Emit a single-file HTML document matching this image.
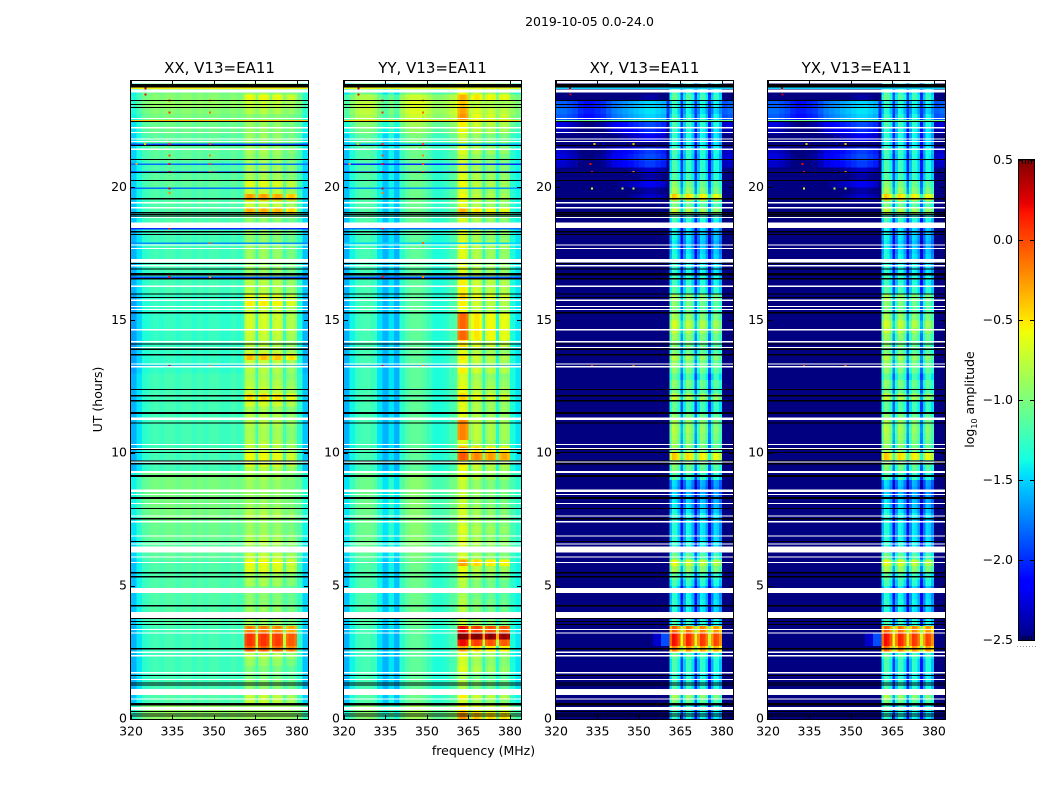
<!DOCTYPE html>
<html>
<head>
<meta charset="utf-8">
<title>2019-10-05 amplitude waterfall</title>
<style>
html,body{margin:0;padding:0;background:#fff}
svg{display:block}
text{font-family:"DejaVu Sans","Liberation Sans",sans-serif;fill:#000}
</style>
</head>
<body>
<svg id="chart" width="1050" height="800" viewBox="0 0 1050 800" xmlns="http://www.w3.org/2000/svg">
<rect width="1050" height="800" fill="#fff"/>
<text x="589.5" y="26" font-size="12.5" text-anchor="middle">2019-10-05 0.0-24.0</text>
<text x="0" y="0" font-size="12.5" text-anchor="middle" transform="translate(102,399.5) rotate(-90)">UT (hours)</text>
<text x="483.5" y="755" font-size="12.5" text-anchor="middle">frequency (MHz)</text>
<text x="0" y="0" font-size="12.5" text-anchor="middle" transform="translate(974,399.5) rotate(-90)">log<tspan font-size="8" dy="3">10</tspan><tspan dy="-3"> amplitude</tspan></text>
</svg>
<script>
// ---- axis ticks ----
const xTickValues = [320, 335, 350, 365, 380];
const yTickValues = [0, 5, 10, 15, 20];
const colorbarTickValues = [0.5, 0, -0.5, -1, -1.5, -2, -2.5];
const panelTitles = ["XX, V13=EA11", "YY, V13=EA11", "XY, V13=EA11", "YX, V13=EA11"];

// ---- frequency baseline of log10 amplitude, one value every 2 MHz from 320 MHz ----
const baselineXX = [-1.6,-1.45,-1.3,-1.25,-1.2,-1.25,-1.2,-1.2,-1.25,-1.2,-1.2,-1.25,-1.2,-1.25,-1.2,-1.2,-1.25,-1.25,-1.2,-1.25,-1.2,-1.2,-1.2,-1.2,-1.2,-1.2,-1.2,-1.2,-1.2,-1.25,-1.3,-1.55];
const baselineYY = [-1.6,-1.4,-1.25,-1.2,-1.2,-1.25,-1.45,-1.6,-1.45,-1.6,-1.3,-1.15,-1.1,-1.1,-1.15,-1.25,-1.35,-1.35,-1.3,-1.2,-1.15,-1.25,-1.25,-1.3,-1.3,-1.3,-1.3,-1.35,-1.35,-1.3,-1.35,-1.45];
const baselineXY = [-2.95,-2.95,-3,-3.05,-3.15,-3.2,-3.2,-3.15,-3.1,-3,-2.9,-2.85,-2.8,-2.75,-2.7,-2.65,-2.6,-2.6,-2.65,-2.7,-3.1,-3.1,-3.1,-3.1,-3.1,-3.1,-3.1,-3.1,-3.1,-3.1,-3,-2.95];
const baselineYX = [-2.95,-2.95,-3,-3.05,-3.15,-3.2,-3.2,-3.15,-3.1,-3,-2.9,-2.85,-2.8,-2.75,-2.7,-2.65,-2.6,-2.6,-2.65,-2.7,-3.1,-3.1,-3.1,-3.1,-3.1,-3.1,-3.1,-3.1,-3.1,-3.1,-3,-2.95];

// ---- background offset per quarter hour, 0.00 to 23.75 UT ----
const offsetXX = [.3,.3,.05,.05, 0,0,0,0, 0,0,0,0, 0,0,.05,.05, .05,.05,.05,.05, .05,.05,.05,.05, .1,.1,.1,.15, .15,.15,.2,.2, .2,.2,.2,.2, .2,0,0,0, 0,0,0,0, 0,0,0,0, 0,0,0,0, -.05,-.05,-.05,-.05, -.05,-.05,-.05,-.05, -.05,-.05,-.05,-.05, 0,0,0,0, 0,0,0,0, 0,0,.05,.05, .05,.05,.05,.05, .1,.1,.05,.05, .1,.1,.1,.1, .15,.15,.2,.25, .3,.25,.2,.2];
const offsetYY = [.25,.25,.05,.05, 0,0,0,0, 0,0,0,0, 0,0,.05,.05, .05,.05,.05,.05, .05,.05,.05,.05, .1,.1,.15,.15, .15,.15,.15,.15, .15,.15,.15,.15, .15,0,0,0, 0,0,0,0, 0,0,0,0, 0,0,0,0, 0,0,0,0, 0,0,0,0, 0,0,0,0, 0,0,0,0, 0,0,0,0, 0,0,.05,.05, .05,.05,.05,.05, .05,.05,.05,.05, .05,.05,.1,.1, .2,.25,.4,.45, .45,.4,.15,.15];
const offsetXY = [0,0,0,0, 0,0,0,0, 0,0,0,0, 0,0,0,0, 0,0,0,0, 0,0,0,0, 0,0,0,0, 0,0,0,0, 0,0,0,0, 0,0,0,0, 0,0,0,0, 0,0,0,0, 0,0,0,0, 0,0,0,0, 0,0,0,0, 0,0,0,0, 0,0,0,0, 0,0,0,0, 0,0,.1,.1, .1,.1,.3,.2, .4,.2,.3,.65, .7,.65,.1,.4, .6,.7,1.1,1.15, 1.1,.2,0,0];
const offsetYX = [0,0,0,0, 0,0,0,0, 0,0,0,0, 0,0,0,0, 0,0,0,0, 0,0,0,0, 0,0,0,0, 0,0,0,0, 0,0,0,0, 0,0,0,0, 0,0,0,0, 0,0,0,0, 0,0,0,0, 0,0,0,0, 0,0,0,0, 0,0,0,0, 0,0,0,0, 0,0,0,0, 0,0,.1,.1, .1,.1,.3,.2, .4,.2,.3,.65, .7,.65,.1,.4, .6,.7,1.1,1.15, 1.1,.2,0,0];

// ---- peak level in the four 361-380 MHz sub-bands per quarter hour ----
const bandLevelXX = [-.85,-.85,-.7,-.7, -.9,-.9,-.95,-.95, -.85,-.75,-.05,.1, .1,-.15,-.85,-.85, -.85,-.9,-.9,-.95, -.8,-.8,-.6,-.55, -.7,-.9,-.75,-.8, -.85,-.85,-.75,-.8, -.85,-.85,-.85,-.85, -.8,-.75,-.6,-.55, -.7,-.75,-.8,-.8, -.75,-.75,-.8,-.65, -.45,-.7,-.75,-.8, -.75,-.7,-.35,-.7, -.75,-.7,-.65,-.65, -.65,-.7,-.5,-.6, -.75,-.75,-.75,-.85, -.85,-.85,-.85,-.85, -.9,-.85,-.9,-.85, -.3,-.7,-.25,-.7, -.6,-.8,-.8,-.8, -.85,-.8,-.85,-.85, -.85,-.85,-.9,-.75, -.7,-.55,-.85,-.85];
const bandLevelYY = [-.35,-.6,-.8,-.65, -.95,-.9,-.95,-.75, -.8,-.75,-.4,.1, .6,.1,-.85,-.9, -.9,-.9,-.95,-.9, -.9,-.8,-.7,-.4, -.8,-.85,-.75,-.8, -.75,-.8,-.8,-.8, -.85,-.85,-.85,-.85, -.75,-.7,-.65,-.15, -.4,-.75,-.7,-.7, -.7,-.75,-.75,-.75, -.55,-.7,-.75,-.8, -.65,-.7,-.65,-.75, -.6,-.45,-.45,-.45, -.45,-.7,-.65,-.55, -.65,-.65,-.7,-.75, -.75,-.75,-.75,-.7, -.8,-.75,-.8,-.75, -.45,-.75,-.7,-.75, -.7,-.75,-.8,-.8, -.85,-.75,-.8,-.85, -.7,-.65,-.55,-.6, -.7,-.45,-.7,-.7];
const bandLevelXY = [-1.3,-1.2,-1,-.85, -1.2,-1.25,-1.25,-1.2, -1.2,-1.1,-.2,.15, .15,-.1,-1.2,-1.3, -1.35,-1.3,-1.35,-1.4, -1.2,-1.1,-.85,-.65, -1.05,-1.3,-1.3,-1.35, -1.35,-1.35,-1.3,-1.4, -1.45,-1.5,-1.55,-1.5, -1.15,-1,-.95,-.45, -.9,-.9,-.85,-.8, -.85,-.95,-1.1,-1.1, -.75,-1,-.95,-1.1, -.95,-.9,-.8,-1, -.95,-.9,-.75,-.7, -.85,-1,-.95,-.85, -1.15,-1.25,-1.2,-1.3, -1.3,-1.35,-1.4,-1.45, -1.4,-1.4,-1.25,-1.2, -.75,-1,-.45,-.85, -.95,-1.15,-1.2,-1.2, -1.25,-1.2,-1.3,-1.3, -1.3,-1.2,-1.25,-1.35, -1.25,-1.1,-1.2,-1.2];
const bandLevelYX = [-1.3,-1.2,-1,-.85, -1.2,-1.25,-1.25,-1.2, -1.2,-1.1,-.15,.15, .15,-.1,-1.2,-1.3, -1.35,-1.3,-1.35,-1.4, -1.2,-1.1,-.85,-.65, -1.05,-1.3,-1.3,-1.35, -1.35,-1.35,-1.3,-1.4, -1.45,-1.5,-1.55,-1.5, -1.15,-1,-.95,-.45, -.9,-.9,-.85,-.8, -.85,-.95,-1.1,-1.1, -.75,-1,-.95,-1.1, -.95,-.9,-.8,-1, -.95,-.9,-.75,-.7, -.85,-1,-.95,-.85, -1.15,-1.25,-1.2,-1.3, -1.3,-1.35,-1.4,-1.45, -1.4,-1.4,-1.25,-1.2, -.75,-1,-.45,-.85, -.95,-1.15,-1.2,-1.2, -1.25,-1.2,-1.3,-1.3, -1.3,-1.2,-1.25,-1.35, -1.25,-1.1,-1.2,-1.2];

// ---- sub-band gains (log10) and shape of one 5-channel band period ----
const bandGainXX = [-.02, -.02, -.05, -.15];
const bandGainYY = [.12, -.05, -.12, -.15];
const bandGainXY = [.05, -.02, -.07, -.12];
const bandGainYX = [.05, -.02, -.07, -.12];
const bandStartMHz = [361, 366, 371, 376];
const parallelChannelShape = [-.08, 0, 0, -.08, -.8];
const crossChannelShape = [-.3, 0, -.05, -.25, -.8];

// ---- YY first sub-band runs hotter than the rest at these hours ----
const boostHoursYY = [10.5, 10.75, 11, 14.25, 14.5, 14.75, 15, 22.5, 22.75, 23];
const boostValuesYY = [.4, .4, .4, .25, .25, .25, .25, .2, .2, .2];

// ---- narrow one-integration rows ----
const narrowRowHours = [23.72, 22.5, 21.63, 20.87, 20.57, 19.96, 18.45, 17.9, 16.62, 13.27];
const narrowRowXX = [-.55, -.35, -1.9, -1.8, -2.1, -1.8, -2, -1.7, -1.9, -1.7];
const narrowRowYY = [-.6, -.4, -1.6, -2, -2.1, -1.7, -1.8, -1.5, -1.9, -1.8];
const narrowRowXY = [-1.5, -1.05, null, null, null, null, null, null, null, null];
const narrowRowYX = [-1.5, -1.05, null, null, null, null, null, null, null, null];

// ---- isolated hot channels ----
const spikeMHzParallel = [325.3,325.3,334,348.5,334,348.5,334,348.5,325,334,348.5,334,348.5,322,334,348.5,334,334,334,348.5,334,348.5,334,348.5];
const spikeHourParallel = [23.72,23.5,23.26,23.26,22.82,22.82,21.63,21.63,21.63,21.2,21.2,20.87,20.87,20.87,20.57,20.57,19.96,19.79,18.45,17.9,16.62,16.62,13.27,13.27];
const spikeValueParallel = [.4,.2,.1,-.2,.1,-.1,.1,0,-.4,0,-.2,.2,0,-.3,.3,-.1,.3,-.2,.2,-.1,.2,-.2,.4,-.2];
const spikeMHzCross = [325,325.3,334,348,332.5,333,348,333,344,348,333,348];
const spikeHourCross = [23.72,23.5,21.63,21.63,20.87,20.57,20.57,19.96,19.96,19.96,13.27,13.27];
const spikeValueCross = [.4,.3,-.4,-.4,.2,.2,-.2,-.6,-.8,-.8,.1,-.1];

// ---- blue leakage next to the strongest burst in the cross hands ----
const haloHours = [2.75, 3, 2.75, 3];
const haloStartMHz = [355, 355, 358, 358];
const haloValues = [-2.3, -2.3, -1.9, -1.9];
const haloEndMHz = 361;

// ---- flagged times (hours UT) ----
const whiteLineHours = [22.57,22.22,22.04,21.79,21.7,21.41,19.4,19.21,18.84,17.81,17.68,17.03,16.26,15.73,15.49,15.38,14.62,14.17,13.95,13.34,13.23,10.3,10.15,9.64,8.53,8.42,8.08,7.61,7.4,6.87,6.56,6.08,5.86,3.34,3.22,2.49,2.36,1.72,1.46,.73];
const whiteBandStart = [23.91,23.57,18.47,17.18,11.25,9.25,8.54,6.26,4.74,3.8,.9,.34];
const whiteBandEnd = [24,23.68,18.67,17.3,11.35,9.33,8.64,6.48,4.93,4.03,1.13,.45];
const blackLineHours = [23.24,23.1,22.98,22.45,21.55,21.02,20.54,20.23,19.55,18.96,18.9,18.31,18.2,17.11,16.9,16.54,15.96,15.84,15.26,14.08,13.89,13.68,12.37,11.95,11.12,10.11,10,9.68,9.58,8.31,8.27,7.9,7.51,6.65,5.48,5.33,4.24,3.76,3.64,3.53,2.62,1.61,1.34,1.26,.5,.26,.16,.09];
const blackBandStart = [23.76,19.02,16.68,12.13,11.47,9.1,.55];
const blackBandEnd = [23.89,19.07,16.78,12.19,11.55,9.18,.61];

// ---- layout ----
const SVG_NS = "http://www.w3.org/2000/svg";
const svg = document.getElementById("chart");
const plotTop = 81, plotBottom = 719, plotWidth = 177;
const mhzMin = 320, mhzMax = 384, hourMax = 24;
const rowHours = 0.25, lineHours = 0.042;
const panelLeft = [131, 344, 556, 768];
const cbLeft = 1019, cbWidth = 15, cbTop = 160, cbBottom = 640;

const panelData = [
  {key:"xx", base:baselineXX, offset:offsetXX, level:bandLevelXX, gain:bandGainXX, narrow:narrowRowXX, cross:false},
  {key:"yy", base:baselineYY, offset:offsetYY, level:bandLevelYY, gain:bandGainYY, narrow:narrowRowYY, cross:false},
  {key:"xy", base:baselineXY, offset:offsetXY, level:bandLevelXY, gain:bandGainXY, narrow:narrowRowXY, cross:true},
  {key:"yx", base:baselineYX, offset:offsetYX, level:bandLevelYX, gain:bandGainYX, narrow:narrowRowYX, cross:true}
];

function yScale(hour){ return plotBottom - hour * (plotBottom - plotTop) / hourMax; }
function xScale(left, mhz){ return left + (mhz - mhzMin) * plotWidth / (mhzMax - mhzMin); }
function cbScale(v){ return cbBottom - (v + 2.5) * (cbBottom - cbTop) / 3; }

function jetChannel(x, pts){
  for (let i = 1; i < pts.length; i++) {
    if (x <= pts[i][0]) {
      const a = pts[i-1], b = pts[i];
      return a[1] + (b[1]-a[1]) * (x-a[0]) / (b[0]-a[0]);
    }
  }
  return pts[pts.length-1][1];
}
const jetR = [[0,0],[.35,0],[.66,1],[.89,1],[1,.5]];
const jetG = [[0,0],[.125,0],[.375,1],[.64,1],[.91,0],[1,0]];
const jetB = [[0,.5],[.11,1],[.34,1],[.65,0],[1,0]];
function color(v){
  const x = Math.max(0, Math.min(1, (v + 2.5) / 3));
  const c = a => Math.round(255 * jetChannel(x, a));
  return "rgb(" + c(jetR) + "," + c(jetG) + "," + c(jetB) + ")";
}

function addRect(parent, x, y, w, h, fill){
  const r = document.createElementNS(SVG_NS, "rect");
  r.setAttribute("x", x);
  r.setAttribute("y", y);
  r.setAttribute("width", w);
  r.setAttribute("height", h);
  r.setAttribute("fill", fill);
  parent.appendChild(r);
  return r;
}
function addGroup(parent, crisp){
  const g = document.createElementNS(SVG_NS, "g");
  if (crisp) g.setAttribute("shape-rendering", "crispEdges");
  parent.appendChild(g);
  return g;
}
function addText(parent, x, y, str, size, anchor){
  const t = document.createElementNS(SVG_NS, "text");
  t.setAttribute("x", x);
  t.setAttribute("y", y);
  t.setAttribute("font-size", size);
  t.setAttribute("text-anchor", anchor);
  t.textContent = str;
  parent.appendChild(t);
  return t;
}

function cellValue(p, row, ch){
  const mhz = mhzMin + ch;
  const shape = p.cross ? crossChannelShape : parallelChannelShape;
  let v = p.base[Math.floor(ch / 2)] + p.offset[row];
  for (let b = 0; b < bandStartMHz.length; b++) {
    const k = mhz - bandStartMHz[b];
    if (k >= 0 && k < shape.length) {
      if (k === shape.length - 1 && b === bandStartMHz.length - 1) continue;
      let boost = 0;
      if (p.key === "yy" && b === 0) {
        const bi = boostHoursYY.indexOf(row * rowHours);
        if (bi >= 0) boost = boostValuesYY[bi];
      }
      v = Math.max(v, p.level[row] + p.gain[b] + shape[k] + boost);
    }
  }
  return v;
}

panelData.forEach(function(p, pi){
  const left = panelLeft[pi];
  const panel = addGroup(svg, false);
  
  

  const cells = addGroup(panel, true);
  
  
  const nRows = p.offset.length, nCh = mhzMax - mhzMin;
  for (let row = 0; row < nRows; row++) {
    const h0 = row * rowHours;
    for (let ch = 0; ch < nCh; ch++) {
      const x0 = xScale(left, mhzMin + ch), x1 = xScale(left, mhzMin + ch + 1);
      const y1 = yScale(h0), y0 = yScale(h0 + rowHours);
      const r = addRect(cells, x0, y0, x1 - x0, y1 - y0, color(cellValue(p, row, ch)));
      
      
    }
  }

  if (p.cross) {
    haloHours.forEach(function(h, i){
      const x0 = xScale(left, haloStartMHz[i]), x1 = xScale(left, haloEndMHz);
      const r = addRect(cells, x0, yScale(h + rowHours), x1 - x0, yScale(h) - yScale(h + rowHours), color(haloValues[i]));
      
      
    });
  }

  narrowRowHours.forEach(function(h, i){
    if (p.narrow[i] === null) return;
    const r = addRect(cells, left, yScale(h) - 0.7, plotWidth, 1.5, color(p.narrow[i]));
    
    
  });

  const sm = p.cross ? spikeMHzCross : spikeMHzParallel;
  const sh = p.cross ? spikeHourCross : spikeHourParallel;
  const sv = p.cross ? spikeValueCross : spikeValueParallel;
  sm.forEach(function(m, i){
    const r = addRect(cells, xScale(left, m) - 1, yScale(sh[i]) - 1, 2, 2, color(sv[i]));
    
    
  });

  whiteLineHours.forEach(function(h){
    const r = addRect(cells, left, yScale(h + lineHours), plotWidth, yScale(h) - yScale(h + lineHours), "#fff");
    
    
  });
  whiteBandStart.forEach(function(h, i){
    const r = addRect(cells, left, yScale(whiteBandEnd[i]), plotWidth, yScale(h) - yScale(whiteBandEnd[i]), "#fff");
    
    
  });
  blackLineHours.forEach(function(h){
    const r = addRect(cells, left, yScale(h + lineHours), plotWidth, yScale(h) - yScale(h + lineHours), "#000");
    
    
  });
  blackBandStart.forEach(function(h, i){
    const r = addRect(cells, left, yScale(blackBandEnd[i]), plotWidth, yScale(h) - yScale(blackBandEnd[i]), "#000");
    
    
  });

  const ticks = addGroup(panel, true);
  
  
  xTickValues.forEach(function(m){
    const x = Math.round(xScale(left, m));
    const t1 = addRect(ticks, x, plotBottom - 4, 1, 4, "#000");
    
    
    const t2 = addRect(ticks, x, plotTop, 1, 4, "#000");
    
    
    const l = addText(panel, xScale(left, m), 735.5, String(m), 12.5, "middle");
    
    
  });
  yTickValues.forEach(function(h){
    const y = Math.round(yScale(h));
    const t1 = addRect(ticks, left, y, 4, 1, "#000");
    
    
    const t2 = addRect(ticks, left + plotWidth - 4, y, 4, 1, "#000");
    
    
    const l = addText(panel, left - 4, yScale(h) + 3.5, String(h), 12.5, "end");
    
    
  });

  const frame = addRect(ticks, left - 0.5, plotTop - 0.5, plotWidth + 1, plotBottom - plotTop + 1, "none");
  frame.setAttribute("stroke", "#000");
  frame.setAttribute("stroke-width", "1");
  
  

  const title = addText(panel, left + plotWidth / 2, 73, panelTitles[pi], 15, "middle");
  
  
});

// ---- colour bar ----
const cb = addGroup(svg, true);


for (let py = cbTop; py < cbBottom; py += 2) {
  const v = 0.5 - (py + 1 - cbTop) * 3 / (cbBottom - cbTop);
  const r = addRect(cb, cbLeft, py, cbWidth, 2, color(v));
  
  
}
for (let i = 0; i < 4; i++) {
  const a = addRect(cb, cbLeft + 3 + i * 3, cbTop, 1, 4, "#000");
  
  
  const b = addRect(cb, cbLeft + 3 + i * 3, cbBottom - 4, 1, 4, "#000");
  
  
}
for (let i = 0; i < 7; i++) {
  const d = addRect(cb, cbLeft - 2 + i * 3, 646, 1, 1, "#999");
  
  
}
colorbarTickValues.forEach(function(v){
  const y = Math.round(cbScale(v));
  const t1 = addRect(cb, cbLeft, y, 4, 1, "#000");
  
  
  const t2 = addRect(cb, cbLeft + cbWidth - 4, y, 4, 1, "#000");
  
  
  const label = (v < 0 ? "\u2212" : "") + Math.abs(v).toFixed(1);
  const l = addText(svg, cbLeft - 6, cbScale(v) + 4, label, 12.5, "end");
  
  
});
const cbFrame = addRect(cb, cbLeft - 0.5, cbTop - 0.5, cbWidth + 1, cbBottom - cbTop + 1, "none");
cbFrame.setAttribute("stroke", "#000");


</script>
</body>
</html>
